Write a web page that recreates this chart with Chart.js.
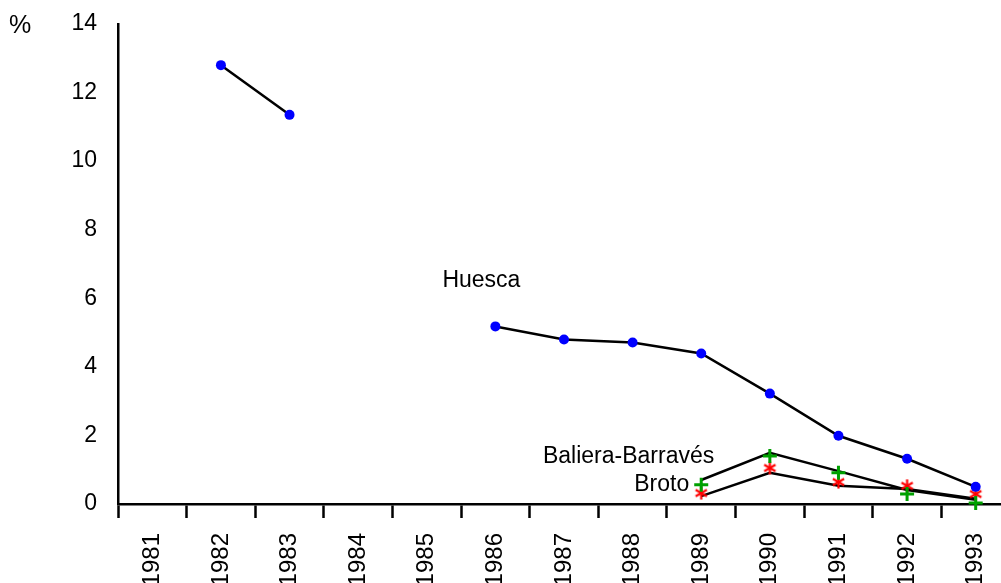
<!DOCTYPE html>
<html>
<head>
<meta charset="utf-8">
<script src="https://cdn.jsdelivr.net/npm/chart.js@4.4.0/dist/chart.umd.min.js"></script>
<style>
  html, body { margin: 0; padding: 0; background: #fff; overflow: hidden; }
  #wrap { position: relative; width: 1020px; height: 583px; }
</style>
</head>
<body>
<div id="wrap"><canvas id="chart"></canvas></div>
<script>
// years on the x axis
var years = ['1981', '1982', '1983', '1984', '1985', '1986', '1987',
             '1988', '1989', '1990', '1991', '1992', '1993'];

// Huesca (%)
var huesca = [null, 12.8, 11.35, null, null, 5.18, 4.8, 4.71, 4.39, 3.22, 1.99, 1.32, 0.5];

// Baliera-Barravés: line and its markers sit slightly apart
var balieraLine = [null, null, null, null, null, null, null, null, 0.70, 1.49, 0.96, 0.41, 0.12];
var balieraMarks = [null, null, null, null, null, null, null, null, 0.56, 1.40, 0.91, 0.29, 0.03];

// Broto
var brotoLine = [null, null, null, null, null, null, null, null, 0.23, 0.91, 0.53, 0.44, 0.15];
var brotoMarks = [null, null, null, null, null, null, null, null, 0.32, 1.05, 0.64, 0.53, 0.29];

var yTicks = [0, 2, 4, 6, 8, 10, 12, 14];

// series names written next to the lines
var notes = [
  { text: 'Huesca', year: '1986', value: 6.32, dx: -53, align: 'left' },
  { text: 'Baliera-Barravés', year: '1989', value: 1.2, dx: 13, align: 'right' },
  { text: 'Broto', year: '1989', value: 0.38, dx: -12, align: 'right' }
];

var FONT = '"Liberation Sans", Arial, sans-serif';
Chart.defaults.font.family = FONT;
Chart.defaults.font.size = 23;
Chart.defaults.color = '#000';

// six-armed asterisk used as the Broto marker
function asterisk(size, color, width) {
  var c = document.createElement('canvas');
  c.width = size;
  c.height = size;
  var g = c.getContext('2d');
  var r = size / 2 - 1;
  g.strokeStyle = color;
  g.lineWidth = width;
  g.lineCap = 'butt';
  [90, 30, -30].forEach(function (deg) {
    var a = deg * Math.PI / 180;
    g.beginPath();
    g.moveTo(size / 2 - r * Math.cos(a), size / 2 - r * Math.sin(a));
    g.lineTo(size / 2 + r * Math.cos(a), size / 2 + r * Math.sin(a));
    g.stroke();
  });
  return c;
}
var starMark = asterisk(15, '#ff0000', 2.2);

var notesPlugin = {
  id: 'notes',
  afterDraw: function (chart) {
    var ctx = chart.ctx;
    var xs = chart.scales.x, ys = chart.scales.y;
    ctx.save();
    ctx.fillStyle = '#000';
    ctx.font = '23px ' + FONT;
    ctx.textBaseline = 'alphabetic';
    notes.forEach(function (n) {
      ctx.textAlign = n.align;
      ctx.fillText(n.text, xs.getPixelForValue(years.indexOf(n.year)) + n.dx, ys.getPixelForValue(n.value));
    });
    // unit label above the y axis
    ctx.textAlign = 'left';
    ctx.font = '25px ' + FONT;
    ctx.fillText('%', 9, 33);
    ctx.restore();
  }
};

new Chart(document.getElementById('chart'), {
  type: 'line',
  data: {
    labels: years,
    datasets: [
      {
        label: 'Huesca',
        data: huesca,
        borderColor: '#000',
        borderWidth: 2.5,
        pointRadius: 5,
        pointBackgroundColor: '#0000ff',
        pointBorderColor: '#0000ff',
        pointBorderWidth: 0,
        spanGaps: false,
        clip: false
      },
      {
        label: 'Baliera-Barravés',
        data: balieraMarks,
        showLine: false,
        pointStyle: 'cross',
        pointRadius: 7,
        pointBorderColor: '#00a000',
        pointBorderWidth: 3,
        clip: false
      },
      {
        label: 'Broto',
        data: brotoMarks,
        showLine: false,
        pointStyle: starMark,
        pointRadius: 7,
        clip: false
      },
      {
        label: 'Baliera-Barravés line',
        data: balieraLine,
        borderColor: '#000',
        borderWidth: 2.5,
        pointRadius: 0,
        clip: false
      },
      {
        label: 'Broto line',
        data: brotoLine,
        borderColor: '#000',
        borderWidth: 2.5,
        pointRadius: 0,
        clip: false
      }
    ]
  },
  options: {
    responsive: true,
    maintainAspectRatio: false,
    animation: false,
    events: [],
    layout: { padding: { top: 24, right: 8, left: 0, bottom: 0 } },
    plugins: {
      legend: { display: false },
      tooltip: { enabled: false }
    },
    scales: {
      x: {
        type: 'category',
        offset: true,
        grid: {
          offset: true,
          drawOnChartArea: false,
          drawTicks: true,
          tickLength: 14,
          tickWidth: 2.5,
          tickColor: '#000'
        },
        border: { display: true, color: '#000', width: 2.5 },
        ticks: { minRotation: 90, maxRotation: 90, padding: 15, autoSkip: false, color: '#000', font: { size: 24 } },
        afterFit: function (s) { s.height = 79; }
      },
      y: {
        min: 0,
        max: 14,
        afterBuildTicks: function (s) { s.ticks = yTicks.map(function (v) { return { value: v }; }); },
        grid: { display: false, drawTicks: false },
        border: { display: true, color: '#000', width: 2.5 },
        ticks: { padding: 21, color: '#000' },
        afterFit: function (s) {
          s.width = 118;
          s.paddingTop = 0;
          s.paddingBottom = 0;
        }
      }
    }
  },
  plugins: [notesPlugin]
});
</script>
</body>
</html>
